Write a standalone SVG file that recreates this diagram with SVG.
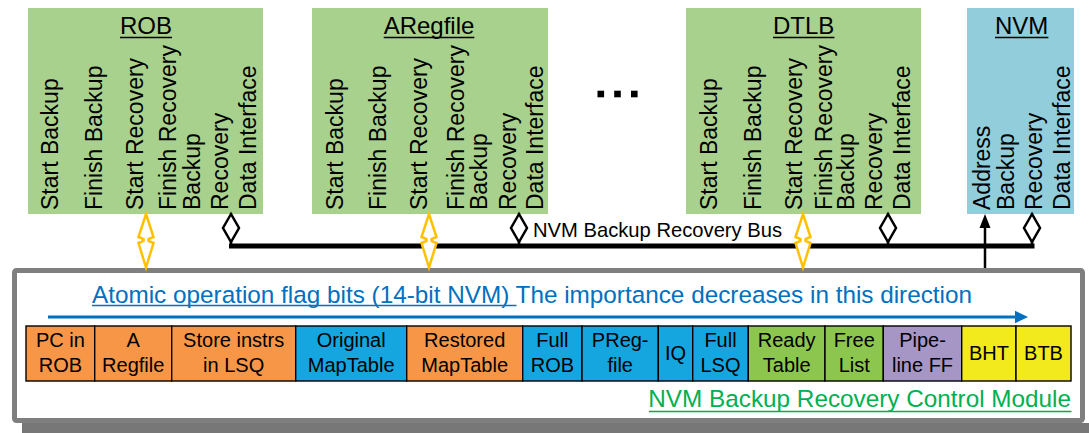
<svg xmlns="http://www.w3.org/2000/svg" width="1089" height="433" viewBox="0 0 1089 433">
  <style>
    text { font-family: "Liberation Sans", Arial, sans-serif; fill: #000; }
    .unit { fill: #A9D18E; }
    .nvm { fill: #92CDDC; }
    .title { font-size: 24px; text-anchor: middle; }
    .vt { font-size: 23px; }
    .uline { stroke: #000; stroke-width: 1.5; }
    .bus { stroke: #000; stroke-width: 5; fill: none; }
    .tap { stroke: #000; stroke-width: 2.5; fill: none; marker-end: url(#diamond); }
    .addr { stroke: #000; stroke-width: 2.5; fill: none; marker-end: url(#head); }
    .ctl { fill: #fff; stroke: #FFC000; stroke-width: 2.5; stroke-linejoin: miter; }
    .cell { stroke: #000; stroke-width: 1.4; }
    .ct { font-size: 20px; text-anchor: middle; }
    .or { fill: #F79646; }
    .bl { fill: #15A6DF; }
    .gr { fill: #8DC64E; }
    .pu { fill: #A696C6; }
    .ye { fill: #F2EA1C; }
  </style>
  <defs>
    <marker id="diamond" markerUnits="userSpaceOnUse" viewBox="-30 -10 32 20" refX="0" refY="0" markerWidth="32" markerHeight="20" orient="auto" overflow="visible">
      <path d="M0,0 L-14,-8 L-28,0 L-14,8 Z" fill="#fff" stroke="#000" stroke-width="2.5" stroke-linejoin="miter"/>
    </marker>
    <marker id="head" markerUnits="userSpaceOnUse" viewBox="-10 -7 18 14" refX="0" refY="0" markerWidth="18" markerHeight="14" orient="auto" overflow="visible">
      <path d="M-8,-5.5 L6,0 L-8,5.5 Z" fill="#000"/>
    </marker>
    <marker id="bluehead" markerUnits="userSpaceOnUse" viewBox="-2 -7 16 14" refX="0" refY="0" markerWidth="16" markerHeight="14" orient="auto" overflow="visible">
      <path d="M-1,-6.3 L12,0 L-1,6.3 Z" fill="#0070C0"/>
    </marker>
  </defs>

  <!-- module units -->
  <g id="rob">
    <rect class="unit" x="28" y="8" width="235" height="206"/>
    <text class="title" x="146" y="34">ROB</text>
    <line class="uline" x1="120" y1="37.5" x2="172" y2="37.5"/>
    <text class="vt" transform="translate(57.5,210) rotate(-90)">Start Backup</text>
    <text class="vt" transform="translate(102,210) rotate(-90)">Finish Backup</text>
    <text class="vt" transform="translate(143,210) rotate(-90)">Start Recovery</text>
    <text class="vt" transform="translate(176,210) rotate(-90)">Finish Recovery</text>
    <text class="vt" transform="translate(199.5,210) rotate(-90)">Backup</text>
    <text class="vt" transform="translate(227.5,210) rotate(-90)">Recovery</text>
    <text class="vt" transform="translate(255.5,210) rotate(-90)">Data Interface</text>
  </g>

  <g id="aregfile">
    <rect class="unit" x="312" y="8" width="236" height="206"/>
    <text class="title" x="429" y="34">ARegfile</text>
    <line class="uline" x1="383.7" y1="37.5" x2="474.3" y2="37.5"/>
    <text class="vt" transform="translate(342.5,210) rotate(-90)">Start Backup</text>
    <text class="vt" transform="translate(385.5,210) rotate(-90)">Finish Backup</text>
    <text class="vt" transform="translate(427,210) rotate(-90)">Start Recovery</text>
    <text class="vt" transform="translate(463.5,210) rotate(-90)">Finish Recovery</text>
    <text class="vt" transform="translate(486.5,210) rotate(-90)">Backup</text>
    <text class="vt" transform="translate(515.5,210) rotate(-90)">Recovery</text>
    <text class="vt" transform="translate(543,210) rotate(-90)">Data Interface</text>
  </g>

  <g id="ellipsis">
    <rect x="597.5" y="90.7" width="6.6" height="6.6"/>
    <rect x="614.2" y="90.7" width="6.6" height="6.6"/>
    <rect x="631" y="90.7" width="6.6" height="6.6"/>
  </g>

  <g id="dtlb">
    <rect class="unit" x="686" y="8" width="235" height="206"/>
    <text class="title" x="803.7" y="34">DTLB</text>
    <line class="uline" x1="773" y1="37.5" x2="834.4" y2="37.5"/>
    <text class="vt" transform="translate(717,210) rotate(-90)">Start Backup</text>
    <text class="vt" transform="translate(760.5,210) rotate(-90)">Finish Backup</text>
    <text class="vt" transform="translate(802,210) rotate(-90)">Start Recovery</text>
    <text class="vt" transform="translate(832,210) rotate(-90)">Finish Recovery</text>
    <text class="vt" transform="translate(853.5,210) rotate(-90)">Backup</text>
    <text class="vt" transform="translate(882,210) rotate(-90)">Recovery</text>
    <text class="vt" transform="translate(910,210) rotate(-90)">Data Interface</text>
  </g>

  <g id="nvm">
    <rect class="nvm" x="967" y="8" width="107" height="206"/>
    <text class="title" x="1021.7" y="34">NVM</text>
    <line class="uline" x1="995" y1="37.5" x2="1048.4" y2="37.5"/>
    <text class="vt" transform="translate(989.5,210) rotate(-90)">Address</text>
    <text class="vt" transform="translate(1013.5,210) rotate(-90)">Backup</text>
    <text class="vt" transform="translate(1041.5,210) rotate(-90)">Recovery</text>
    <text class="vt" transform="translate(1069.5,210) rotate(-90)">Data Interface</text>
  </g>

  <!-- control module frame -->
  <g id="control-module">
    <rect x="22" y="423" width="1067" height="10" fill="#777"/>
    <rect x="14.5" y="270.5" width="1068" height="150" rx="2" fill="#fff" stroke="#7F7F7F" stroke-width="5"/>
    <text x="92" y="303.3" font-size="24.3" fill="#0070C0" style="fill:#0070C0">Atomic operation flag bits (14-bit NVM) The importance decreases in this direction</text>
    <line x1="92" y1="305.5" x2="516.5" y2="305.5" stroke="#0070C0" stroke-width="1.5"/>
    <line x1="48" y1="317" x2="1016" y2="317" stroke="#0070C0" stroke-width="3" marker-end="url(#bluehead)"/>
    <text x="1071" y="406.7" font-size="24.3" text-anchor="end" style="fill:#00B050">NVM Backup Recovery Control Module</text>
    <line x1="649" y1="411.5" x2="1071.5" y2="411.5" stroke="#00B050" stroke-width="1.5"/>
  </g>

  <!-- flag bit cells -->
  <g id="flag-pc-rob"><rect class="cell or" x="26" y="326" width="68.7" height="55"/><text class="ct" x="60.4" y="347">PC in</text><text class="ct" x="60.4" y="372">ROB</text></g>
  <g id="flag-aregfile"><rect class="cell or" x="94.7" y="326" width="77" height="55"/><text class="ct" x="133.2" y="347">A</text><text class="ct" x="133.2" y="372">Regfile</text></g>
  <g id="flag-store-lsq"><rect class="cell or" x="171.7" y="326" width="124" height="55"/><text class="ct" x="233.7" y="347">Store instrs</text><text class="ct" x="233.7" y="372">in LSQ</text></g>
  <g id="flag-orig-maptable"><rect class="cell bl" x="295.7" y="326" width="111" height="55"/><text class="ct" x="351.2" y="347">Original</text><text class="ct" x="351.2" y="372">MapTable</text></g>
  <g id="flag-rest-maptable"><rect class="cell or" x="406.7" y="326" width="116" height="55"/><text class="ct" x="464.7" y="347">Restored</text><text class="ct" x="464.7" y="372">MapTable</text></g>
  <g id="flag-full-rob"><rect class="cell bl" x="522.7" y="326" width="59.3" height="55"/><text class="ct" x="552.4" y="347">Full</text><text class="ct" x="552.4" y="372">ROB</text></g>
  <g id="flag-pregfile"><rect class="cell bl" x="582" y="326" width="76.3" height="55"/><text class="ct" x="620.2" y="347">PReg-</text><text class="ct" x="620.2" y="372">file</text></g>
  <g id="flag-iq"><rect class="cell bl" x="658.3" y="326" width="34.4" height="55"/><text class="ct" x="675.5" y="360">IQ</text></g>
  <g id="flag-full-lsq"><rect class="cell bl" x="692.7" y="326" width="55.6" height="55"/><text class="ct" x="720.5" y="347">Full</text><text class="ct" x="720.5" y="372">LSQ</text></g>
  <g id="flag-ready-table"><rect class="cell gr" x="748.3" y="326" width="76.7" height="55"/><text class="ct" x="786.7" y="347">Ready</text><text class="ct" x="786.7" y="372">Table</text></g>
  <g id="flag-free-list"><rect class="cell gr" x="825" y="326" width="58.3" height="55"/><text class="ct" x="854.2" y="347">Free</text><text class="ct" x="854.2" y="372">List</text></g>
  <g id="flag-pipeline-ff"><rect class="cell pu" x="883.3" y="326" width="78.4" height="55"/><text class="ct" x="922.5" y="347">Pipe-</text><text class="ct" x="922.5" y="372">line FF</text></g>
  <g id="flag-bht"><rect class="cell ye" x="961.7" y="326" width="54.3" height="55"/><text class="ct" x="988.9" y="360">BHT</text></g>
  <g id="flag-btb"><rect class="cell ye" x="1016" y="326" width="55" height="55"/><text class="ct" x="1043.5" y="360">BTB</text></g>

  <!-- bus, taps and control links -->
  <g id="connectors">
    <line class="bus" x1="229" y1="246" x2="1034.5" y2="246"/>
    <line class="tap" x1="231" y1="246" x2="231" y2="214"/>
    <line class="tap" x1="519" y1="246" x2="519" y2="214"/>
    <line class="tap" x1="888" y1="246" x2="888" y2="214"/>
    <line class="tap" x1="1032" y1="246" x2="1032" y2="214"/>
    <line class="addr" x1="985" y1="268" x2="985" y2="220"/>
    <text x="533" y="237.3" font-size="20.2">NVM Backup Recovery Bus</text>
    <polygon class="ctl" points="146,214 153.5,237 148.5,239 148.5,241 153.5,243 146,267.5 138.5,243 143.5,241 143.5,239 138.5,237"/>
    <polygon class="ctl" points="429,214 436.5,237 431.5,239 431.5,241 436.5,243 429,267.5 421.5,243 426.5,241 426.5,239 421.5,237"/>
    <polygon class="ctl" points="803,214 810.5,237 805.5,239 805.5,241 810.5,243 803,267.5 795.5,243 800.5,241 800.5,239 795.5,237"/>
  </g>
</svg>
